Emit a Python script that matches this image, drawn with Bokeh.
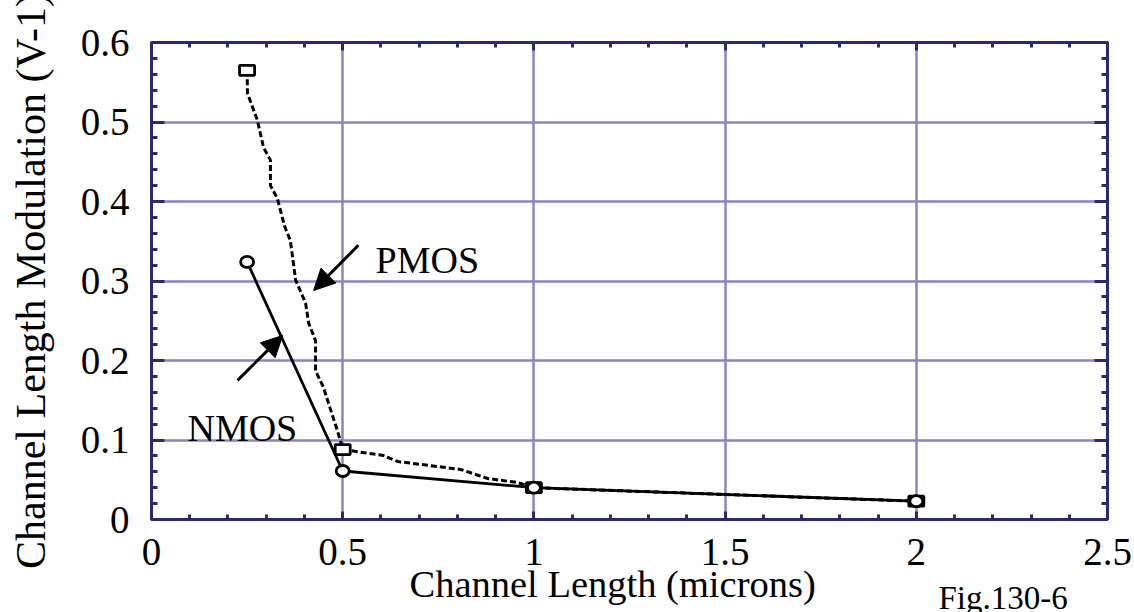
from bokeh.plotting import figure
from bokeh.models import (Range1d, FixedTicker, LinearAxis, Label, Arrow, NormalHead, Grid, Title)
from bokeh.embed import file_html
from bokeh.resources import INLINE

# ---- data ----
channel_length = [0.25, 0.5, 1.0, 2.0]
nmos_lambda = [0.324, 0.061, 0.040, 0.023]
pmos_lambda = [0.565, 0.088, 0.040, 0.023]

# traced path of the PMOS (dashed) curve
pmos_path_x = [0.25, 0.251, 0.277, 0.293, 0.311, 0.311, 0.329, 0.348, 0.363, 0.377,
               0.403, 0.411, 0.429, 0.429, 0.450, 0.463, 0.486, 0.494, 0.5,
               0.607, 0.643, 0.808, 0.879, 0.957, 1.0, 2.0]
pmos_path_y = [0.565, 0.536, 0.502, 0.468, 0.452, 0.420, 0.404, 0.369, 0.351, 0.301,
               0.272, 0.247, 0.225, 0.187, 0.166, 0.146, 0.112, 0.099, 0.088,
               0.0805, 0.073, 0.063, 0.0516, 0.0465, 0.040, 0.023]

x_ticks = [0, 0.5, 1, 1.5, 2, 2.5]
x_tick_labels = ["0", "0.5", "1", "1.5", "2", "2.5"]
x_minor = [0.1, 0.2, 0.3, 0.4, 0.6, 0.7, 0.8, 0.9, 1.1, 1.2, 1.3, 1.4,
           1.6, 1.7, 1.8, 1.9, 2.1, 2.2, 2.3, 2.4]
y_ticks = [0, 0.1, 0.2, 0.3, 0.4, 0.5, 0.6]
y_tick_labels = ["0", "0.1", "0.2", "0.3", "0.4", "0.5", "0.6"]
y_minor = [0.02, 0.04, 0.06, 0.08, 0.12, 0.14, 0.16, 0.18, 0.22, 0.24, 0.26, 0.28,
           0.32, 0.34, 0.36, 0.38, 0.42, 0.44, 0.46, 0.48, 0.52, 0.54, 0.56, 0.58]

x_title = "Channel Length (microns)"
y_title = "Channel Length Modulation (V-1)"
fig_note = "Fig.130-6"

FONT = "Liberation Serif"
NAVY = "#2a2a6c"
GRID = "#8c84c0"

p = figure(width=1134, height=612, output_backend="svg", toolbar_location=None,
           x_range=Range1d(0, 2.5), y_range=Range1d(0, 0.6),
           x_axis_type=None, y_axis_type=None,
           min_border_left=151, min_border_right=27, min_border_top=42, min_border_bottom=93)
p.background_fill_color = "white"
p.border_fill_color = "white"
p.outline_line_color = NAVY
p.outline_line_width = 3

xt = FixedTicker(ticks=x_ticks, minor_ticks=x_minor)
yt = FixedTicker(ticks=y_ticks, minor_ticks=y_minor)

p.add_layout(Grid(dimension=0, ticker=xt, grid_line_color=GRID, grid_line_width=2.5))
p.add_layout(Grid(dimension=1, ticker=yt, grid_line_color=GRID, grid_line_width=2.5))


def style_axis(ax, horizontal, labels):
    ax.axis_line_color = NAVY
    ax.axis_line_width = 3
    ax.major_tick_line_color = NAVY
    ax.minor_tick_line_color = NAVY
    ax.major_tick_line_width = 3
    ax.minor_tick_line_width = 3
    ax.major_tick_out = 0
    ax.minor_tick_out = 0
    if horizontal:
        ax.major_tick_in = 8
        ax.minor_tick_in = 5
    else:
        ax.major_tick_in = 13
        ax.minor_tick_in = 6
    if labels:
        ax.major_label_text_font = FONT
        ax.major_label_text_font_size = "39px"
        ax.major_label_text_color = "black"
        ax.major_label_text_font_style = "normal"
    else:
        ax.major_label_text_font_size = "0px"
        ax.major_label_standoff = 0


bx = LinearAxis(ticker=xt)
bx.major_label_overrides = {t: s for t, s in zip(x_ticks, x_tick_labels)}
style_axis(bx, True, True)
bx.major_label_standoff = 19
p.add_layout(bx, "below")

ax_top = LinearAxis(ticker=xt)
style_axis(ax_top, True, False)
p.add_layout(ax_top, "above")

ly = LinearAxis(ticker=yt)
ly.major_label_overrides = {t: s for t, s in zip(y_ticks, y_tick_labels)}
style_axis(ly, False, True)
ly.major_label_standoff = 22
ly.axis_label = y_title
ly.axis_label_text_font = FONT
ly.axis_label_text_font_size = "42px"
ly.axis_label_text_font_style = "normal"
ly.axis_label_text_color = "black"
ly.axis_label_standoff = 24
p.add_layout(ly, "left")

ry = LinearAxis(ticker=yt)
style_axis(ry, False, False)
p.add_layout(ry, "right")

# PMOS dashed curve
p.line(pmos_path_x, pmos_path_y, line_color="black", line_width=3, line_dash="6 3")
# NMOS solid line
p.line(channel_length, nmos_lambda, line_color="black", line_width=2.8)

# markers
p.rect(channel_length, pmos_lambda, width=15, height=10, width_units="screen",
       height_units="screen", fill_color="white", line_color="black", line_width=2.8)
p.ellipse(channel_length, nmos_lambda, width=13, height=11, width_units="screen",
          height_units="screen", fill_color="white", line_color="black", line_width=2.8)

# annotations
p.add_layout(Label(x=0.586, y=0.326, text="PMOS", text_font=FONT, text_font_size="38px",
                   text_baseline="alphabetic", text_align="left", text_color="black"))
p.add_layout(Label(x=0.094, y=0.1145, text="NMOS", text_font=FONT, text_font_size="38px",
                   text_baseline="alphabetic", text_align="left", text_color="black"))

p.add_layout(Arrow(end=NormalHead(size=21, fill_color="black", line_color="black"),
                   x_start=0.541, y_start=0.345, x_end=0.424, y_end=0.288,
                   line_width=3, line_color="black"))
p.add_layout(Arrow(end=NormalHead(size=21, fill_color="black", line_color="black"),
                   x_start=0.225, y_start=0.175, x_end=0.343, y_end=0.2315,
                   line_width=3, line_color="black"))

# x title below the bottom axis
p.add_layout(Title(text=x_title, align="left", offset=258, text_font=FONT,
                   text_font_size="38.5px", text_font_style="normal", text_color="black",
                   standoff=-14), "below")

# figure note: label hosted in a side panel so it is not clipped to the frame
p.add_layout(Label(x=2.058, y=-0.0985, text=fig_note, text_font=FONT, text_font_size="33px",
                   text_baseline="alphabetic", text_align="left", text_color="black"),
             "above")

open("out.html", "w").write(file_html(p, INLINE))
